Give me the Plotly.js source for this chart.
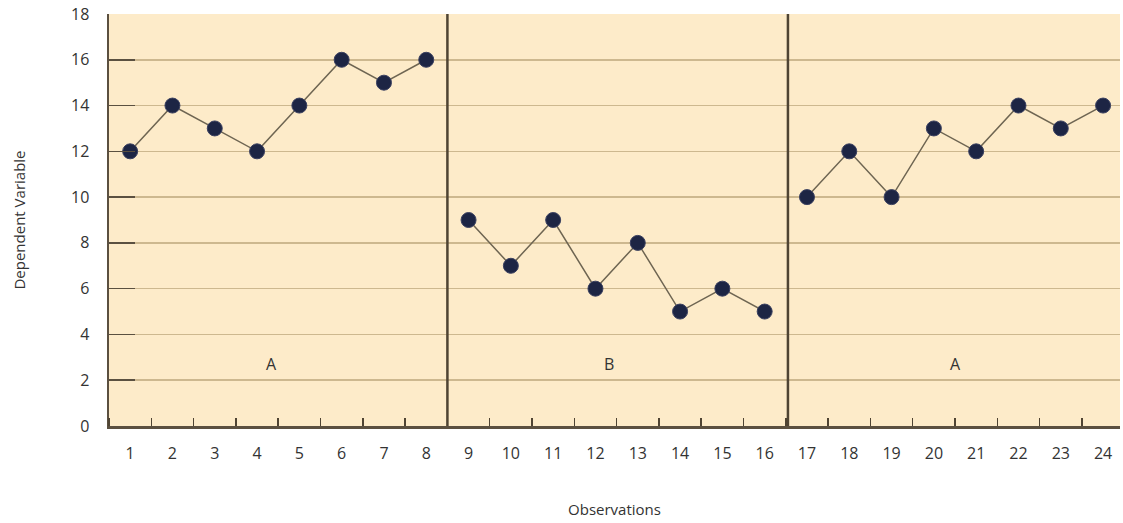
<!DOCTYPE html>
<html>
<head>
<meta charset="utf-8">
<script src="https://cdn.plot.ly/plotly-3.0.1.min.js"></script>
<style>html,body{margin:0;padding:0;background:#fff;}#chart{width:1123px;height:523px;}</style>
</head>
<body>
<div id="chart"></div>
<script>
const phaseA1X = [1, 2, 3, 4, 5, 6, 7, 8];
const phaseA1Y = [12, 14, 13, 12, 14, 16, 15, 16];
const phaseBX = [9, 10, 11, 12, 13, 14, 15, 16];
const phaseBY = [9, 7, 9, 6, 8, 5, 6, 5];
const phaseA2X = [17, 18, 19, 20, 21, 22, 23, 24];
const phaseA2Y = [10, 12, 10, 13, 12, 14, 13, 14];
const xTickVals = [1,2,3,4,5,6,7,8,9,10,11,12,13,14,15,16,17,18,19,20,21,22,23,24];
const xTickText = ["1","2","3","4","5","6","7","8","9","10","11","12","13","14","15","16","17","18","19","20","21","22","23","24"];
const yTickVals = [0, 2, 4, 6, 8, 10, 12, 14, 16, 18];
const phaseLines = [8.5, 16.55];
const phaseLabels = ["A", "B", "A"];
const phaseLabelX = [4.33, 12.33, 20.5];

const lineStyle = {color: '#6e6552', width: 1.5};
const markerStyle = {color: '#1d2544', size: 15, line: {color: '#3a4060', width: 1}};
function series(x, y) {
  return {x: x, y: y, type: 'scatter', mode: 'lines+markers', line: lineStyle, marker: markerStyle, showlegend: false, hoverinfo: 'skip'};
}
const data = [series(phaseA1X, phaseA1Y), series(phaseBX, phaseBY), series(phaseA2X, phaseA2Y)];

const shapes = phaseLines.map(v => ({type: 'line', xref: 'x', yref: 'paper', x0: v, x1: v, y0: 0, y1: 1, line: {color: '#4f4433', width: 2.5}, layer: 'above'}));
const annotations = phaseLabels.map((t, i) => ({x: phaseLabelX[i], y: 2.7, xref: 'x', yref: 'y', text: t, showarrow: false, font: {family: 'Open Sans, sans-serif', size: 16, color: '#333'}}));

const layout = {
  width: 1123, height: 523,
  margin: {l: 109, r: 3, t: 14, b: 97},
  paper_bgcolor: '#ffffff',
  plot_bgcolor: '#fdebc9',
  font: {family: 'Open Sans, sans-serif', size: 16, color: '#333'},
  xaxis: {
    range: [0.5, 24.4],
    tickmode: 'array', tickvals: xTickVals, ticktext: xTickText,
    ticks: '', showgrid: false, zeroline: false,
    showline: true, linecolor: '#5b5040', linewidth: 2.5,
    ticklabelstandoff: 11,
    minor: {tickmode: 'linear', tick0: 0.5, dtick: 1, ticks: 'inside', ticklen: 8, tickwidth: 1.5, tickcolor: '#4f4433', showgrid: false},
    title: {text: 'Observations', standoff: 42, font: {size: 15, color: '#333'}}
  },
  yaxis: {
    range: [0, 18],
    tickmode: 'array', tickvals: yTickVals,
    ticks: 'inside', ticklen: 26, tickwidth: 1.5, tickcolor: '#5b5040',
    showgrid: true, gridcolor: '#cdb88f', gridwidth: 1.5,
    zeroline: false, showline: true, linecolor: '#5b5040', linewidth: 2.5,
    ticklabelstandoff: 14,
    title: {text: 'Dependent Variable', standoff: 42, font: {size: 15, color: '#333'}}
  },
  shapes: shapes,
  annotations: annotations
};
Plotly.newPlot('chart', data, layout, {staticPlot: true, displayModeBar: false});
</script>
</body>
</html>
